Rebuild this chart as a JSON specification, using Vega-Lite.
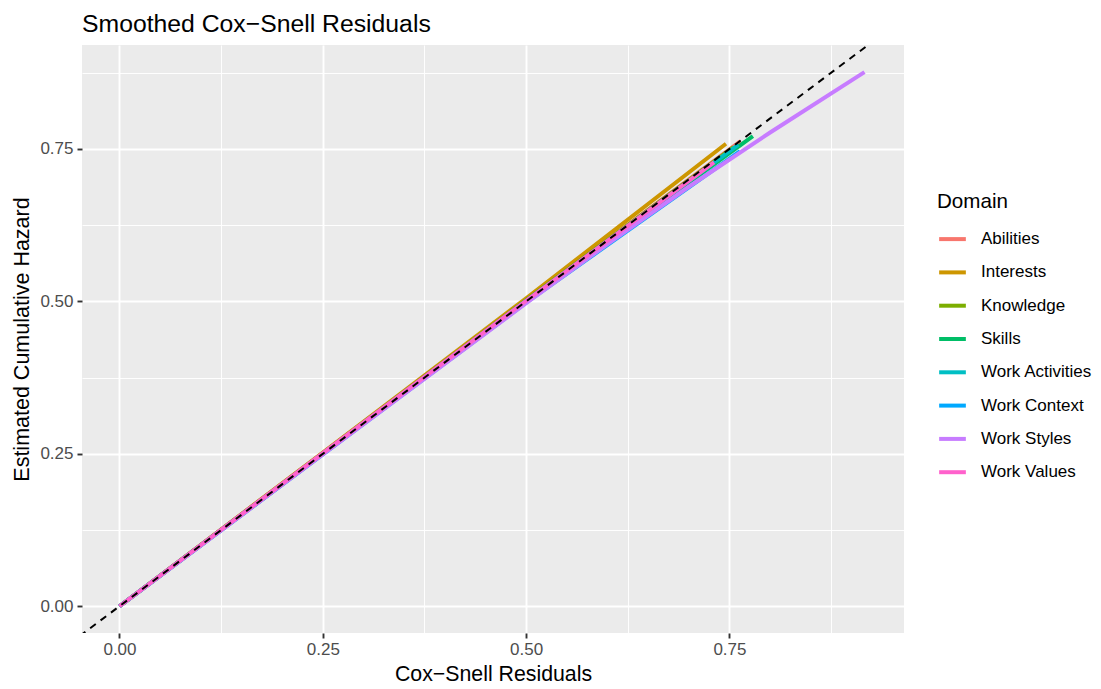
{
  "$schema": "https://vega.github.io/schema/vega-lite/v6.json",
  "width": 822,
  "height": 588,
  "autosize": "none",
  "padding": {"left": 82, "top": 45, "right": 197, "bottom": 56},
  "background": "white",
  "config": {
    "font": "Liberation Sans",
    "view": {"fill": "#EBEBEB", "stroke": null}
  },
  "title": {
    "text": "Smoothed Cox−Snell Residuals",
    "anchor": "start",
    "frame": "group",
    "fontSize": 24.75,
    "fontWeight": "normal",
    "color": "black",
    "offset": 8
  },
  "layer": [
    {
      "data": {
        "values": [
          {"Domain": "Abilities", "x": 0, "y": 0},
          {"Domain": "Abilities", "x": 0.25, "y": 0.251},
          {"Domain": "Abilities", "x": 0.5, "y": 0.502},
          {"Domain": "Abilities", "x": 0.7637, "y": 0.763},
          {"Domain": "Interests", "x": 0, "y": 0},
          {"Domain": "Interests", "x": 0.25, "y": 0.252},
          {"Domain": "Interests", "x": 0.5, "y": 0.505},
          {"Domain": "Interests", "x": 0.7457, "y": 0.7586},
          {"Domain": "Knowledge", "x": 0, "y": 0},
          {"Domain": "Knowledge", "x": 0.25, "y": 0.251},
          {"Domain": "Knowledge", "x": 0.5, "y": 0.502},
          {"Domain": "Knowledge", "x": 0.755, "y": 0.753},
          {"Domain": "Skills", "x": 0, "y": 0},
          {"Domain": "Skills", "x": 0.25, "y": 0.25},
          {"Domain": "Skills", "x": 0.5, "y": 0.501},
          {"Domain": "Skills", "x": 0.7788, "y": 0.771},
          {"Domain": "Work Activities", "x": 0, "y": 0},
          {"Domain": "Work Activities", "x": 0.25, "y": 0.25},
          {"Domain": "Work Activities", "x": 0.5, "y": 0.501},
          {"Domain": "Work Activities", "x": 0.761, "y": 0.757},
          {"Domain": "Work Context", "x": 0, "y": 0},
          {"Domain": "Work Context", "x": 0.25, "y": 0.249},
          {"Domain": "Work Context", "x": 0.5, "y": 0.498},
          {"Domain": "Work Context", "x": 0.763, "y": 0.7464},
          {"Domain": "Work Styles", "x": 0, "y": 0},
          {"Domain": "Work Styles", "x": 0.25, "y": 0.249},
          {"Domain": "Work Styles", "x": 0.5, "y": 0.497},
          {"Domain": "Work Styles", "x": 0.6, "y": 0.594},
          {"Domain": "Work Styles", "x": 0.7, "y": 0.688},
          {"Domain": "Work Styles", "x": 0.8, "y": 0.777},
          {"Domain": "Work Styles", "x": 0.916, "y": 0.876},
          {"Domain": "Work Values", "x": 0, "y": 0},
          {"Domain": "Work Values", "x": 0.25, "y": 0.251},
          {"Domain": "Work Values", "x": 0.5, "y": 0.501},
          {"Domain": "Work Values", "x": 0.731, "y": 0.728}
        ]
      },
      "mark": {"type": "line", "strokeWidth": 4, "strokeCap": "butt", "clip": true},
      "encoding": {
        "x": {
          "field": "x",
          "type": "quantitative",
          "scale": {"domain": [-0.0461, 0.9646], "nice": false, "zero": false},
          "axis": {
            "title": "Cox−Snell Residuals",
            "titleFontSize": 21.3,
            "titleFontWeight": "normal",
            "titleColor": "black",
            "titlePadding": 6,
            "values": [0, 0.125, 0.25, 0.375, 0.5, 0.625, 0.75, 0.875],
            "labelExpr": "round(datum.value*8)%2==0 ? format(datum.value, '.2f') : ''",
            "labelFontSize": 17,
            "labelColor": "#4D4D4D",
            "labelPadding": 3,
            "domain": false,
            "tickColor": "#333333",
            "tickSize": 5,
            "tickWidth": 1.9,
            "tickOpacity": {"condition": {"test": "round(datum.value*8)%2==0", "value": 1}, "value": 0},
            "grid": true,
            "gridColor": "white",
            "gridOpacity": 1,
            "gridWidth": {"condition": {"test": "round(datum.value*8)%2==0", "value": 1.9}, "value": 0.95}
          }
        },
        "y": {
          "field": "y",
          "type": "quantitative",
          "scale": {"domain": [-0.0439, 0.9205], "nice": false, "zero": false},
          "axis": {
            "title": "Estimated Cumulative Hazard",
            "titleFontSize": 21.5,
            "titleFontWeight": "normal",
            "titleColor": "black",
            "titlePadding": 6,
            "values": [0, 0.125, 0.25, 0.375, 0.5, 0.625, 0.75, 0.875],
            "labelExpr": "round(datum.value*8)%2==0 ? format(datum.value, '.2f') : ''",
            "labelFontSize": 17,
            "labelColor": "#4D4D4D",
            "labelPadding": 4,
            "domain": false,
            "tickColor": "#333333",
            "tickSize": 5,
            "tickWidth": 1.9,
            "tickOpacity": {"condition": {"test": "round(datum.value*8)%2==0", "value": 1}, "value": 0},
            "grid": true,
            "gridColor": "white",
            "gridOpacity": 1,
            "gridWidth": {"condition": {"test": "round(datum.value*8)%2==0", "value": 1.9}, "value": 0.95}
          }
        },
        "color": {
          "field": "Domain",
          "type": "nominal",
          "scale": {
            "domain": ["Abilities", "Interests", "Knowledge", "Skills", "Work Activities", "Work Context", "Work Styles", "Work Values"],
            "range": ["#F8766D", "#CD9600", "#7CAE00", "#00BE67", "#00BFC4", "#00A9FF", "#C77CFF", "#FF61CC"]
          },
          "legend": {
            "title": "Domain",
            "titleFontSize": 20.6,
            "titleFontWeight": "normal",
            "titleColor": "black",
            "titlePadding": 11,
            "orient": "none",
            "legendX": 855,
            "legendY": 147,
            "symbolType": "stroke",
            "symbolSize": 713,
            "symbolStrokeWidth": 4,
            "labelFontSize": 17,
            "labelColor": "black",
            "labelOffset": 13,
            "rowPadding": 9.3,
            "padding": 0
          }
        }
      }
    },
    {
      "data": {
        "values": [
          {"x": -0.1, "y": -0.1},
          {"x": 1.0, "y": 1.0}
        ]
      },
      "mark": {"type": "line", "color": "black", "strokeWidth": 2, "strokeDash": [7, 6], "clip": true},
      "encoding": {
        "x": {"field": "x", "type": "quantitative"},
        "y": {"field": "y", "type": "quantitative"}
      }
    }
  ]
}
